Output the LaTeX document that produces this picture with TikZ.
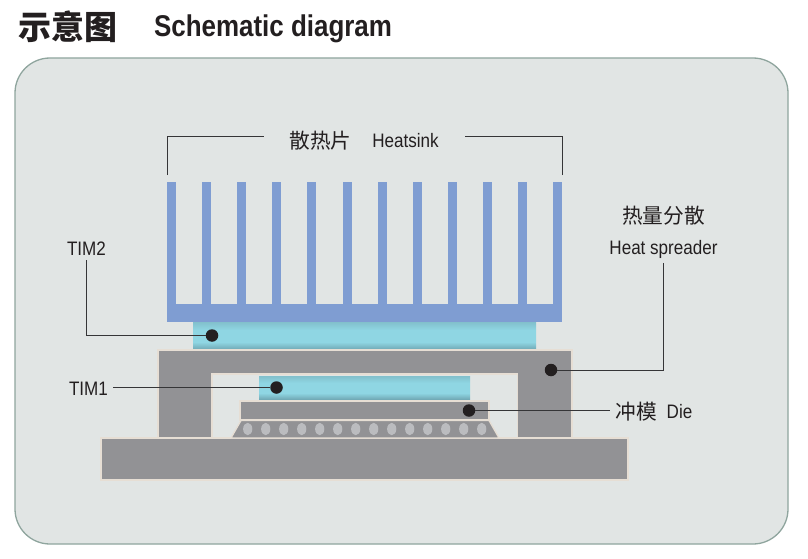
\documentclass[tikz,border=0pt]{standalone}
\usepackage{fontspec}
\setmainfont{Liberation Sans}
\newfontfamily\latinNarrow[FakeStretch=0.875]{Liberation Sans}
\newfontfamily\titleNarrow[FakeStretch=0.865]{Liberation Sans}
\newfontfamily\cjkText{Noto Sans CJK SC}
\definecolor{panelFill}{HTML}{E1E5E4}
\definecolor{panelEdge}{HTML}{8FA59E}
\definecolor{sinkBlue}{HTML}{7F9DD2}
\definecolor{packGray}{HTML}{929295}
\definecolor{packEdge}{HTML}{E6DED4}
\definecolor{bumpGray}{HTML}{BBBCBF}
\definecolor{timMid}{HTML}{8FD6E3}
\definecolor{timTop}{HTML}{82C0CC}
\definecolor{timBottom}{HTML}{72ABB7}
\definecolor{leaderInk}{HTML}{353537}
\definecolor{dotInk}{HTML}{231F20}
\pgfdeclareverticalshading{timband}{100bp}{color(0bp)=(timBottom); color(25bp)=(timBottom); color(38bp)=(timMid); color(60bp)=(timMid); color(75bp)=(timTop); color(100bp)=(timTop)}
\tikzset{
  packpart/.style={fill=packGray, draw=packEdge, line width=1.3pt},
  timlayer/.style={shading=timband},
  leader/.style={draw=leaderInk, line width=1pt},
  leaderdot/.style={circle, fill=dotInk, inner sep=0pt, minimum size=12.5pt},
  latintext/.style={font=\fontsize{19.5}{22}\latinNarrow, text=dotInk},
  cjktext/.style={font=\fontsize{20.7}{23}\cjkText, text=dotInk}
}
\begin{document}
\begin{tikzpicture}[x=1pt, y=-1pt]
  \useasboundingbox (0,0) rectangle (808,559);
  \fill[white] (0,0) rectangle (808,559);
  \node[anchor=center, font=\fontsize{33}{36}\cjkText\bfseries, text=dotInk, inner sep=0pt] (titleCn) at (67.5,27) {示意图};
  \node[anchor=center, font=\fontsize{30}{34}\titleNarrow\bfseries, text=dotInk, inner sep=0pt] (titleEn) at (273,29) {Schematic diagram};
  \draw[fill=panelFill, draw=panelEdge, line width=1.3pt, rounded corners=35pt] (15,58) rectangle (788,544);

  \fill[sinkBlue] (167,304) rectangle (562,322);
  \foreach \finx in {167,202.1,237.2,272.3,307.4,342.5,377.6,412.7,447.8,482.9,518,553.1}
    \fill[sinkBlue] (\finx,182) rectangle (\finx+9,305);

  \shade[timlayer] (193,322) rectangle (536,349);

  \draw[packpart] (158,437.5) -- (158,350) -- (572,350) -- (572,437.5) -- (517.5,437.5) -- (517.5,374) -- (212,374) -- (212,437.5) -- cycle;
  \draw[packpart] (101,438) rectangle (628,480);
  \shade[timlayer] (259,376) rectangle (470,399);
  \draw[packpart] (240,401) rectangle (489,420);
  \draw[packpart] (241,420.5) -- (489,420.5) -- (499,438) -- (231,438) -- cycle;
  \foreach \bumpn in {0,...,13}
    \fill[bumpGray] (247.7+18*\bumpn,429) ellipse [x radius=4.6, y radius=6.2];

  \node[leaderdot] (dotTimTwo) at (212,335.5) {};
  \node[leaderdot] (dotTimOne) at (276.5,387.5) {};
  \node[leaderdot] (dotSpreader) at (551,370) {};
  \node[leaderdot] (dotDie) at (469,410.5) {};

  \node[latintext, inner sep=4pt] (labelTimTwo) at (86.5,249) {TIM2};
  \node[latintext, inner sep=5pt] (labelTimOne) at (88.5,389) {TIM1};
  \node[latintext, inner sep=4pt] (labelSpreader) at (663.5,249.5) {Heat spreader};
  \node[cjktext, inner sep=0pt] (labelSpreaderCn) at (663.5,216) {热量分散};
  \node[cjktext, inner sep=6pt] (labelDieCn) at (636.5,412) {冲模};
  \node[latintext, inner sep=0pt] (labelDie) at (679.5,412) {Die};
  \node[cjktext, inner sep=0pt] (labelSinkCn) at (320.5,141) {散热片};
  \node[latintext, inner sep=0pt] (labelSink) at (405.5,141) {Heatsink};

  \coordinate (sinkLeftFoot) at (167,175);
  \coordinate (sinkLeftEnd) at (264,137);
  \coordinate (sinkRightFoot) at (562,175);
  \coordinate (sinkRightEnd) at (465,137);

  \draw[leader] (sinkLeftFoot) |- (sinkLeftEnd);
  \draw[leader] (sinkRightFoot) |- (sinkRightEnd);
  \draw[leader] (labelTimTwo.south) |- (dotTimTwo);
  \draw[leader] (labelTimOne.east |- dotTimOne) -- (dotTimOne);
  \draw[leader] (labelSpreader.south) |- (dotSpreader);
  \draw[leader] (dotDie) -- (labelDieCn.west |- dotDie);
\end{tikzpicture}
\end{document}
